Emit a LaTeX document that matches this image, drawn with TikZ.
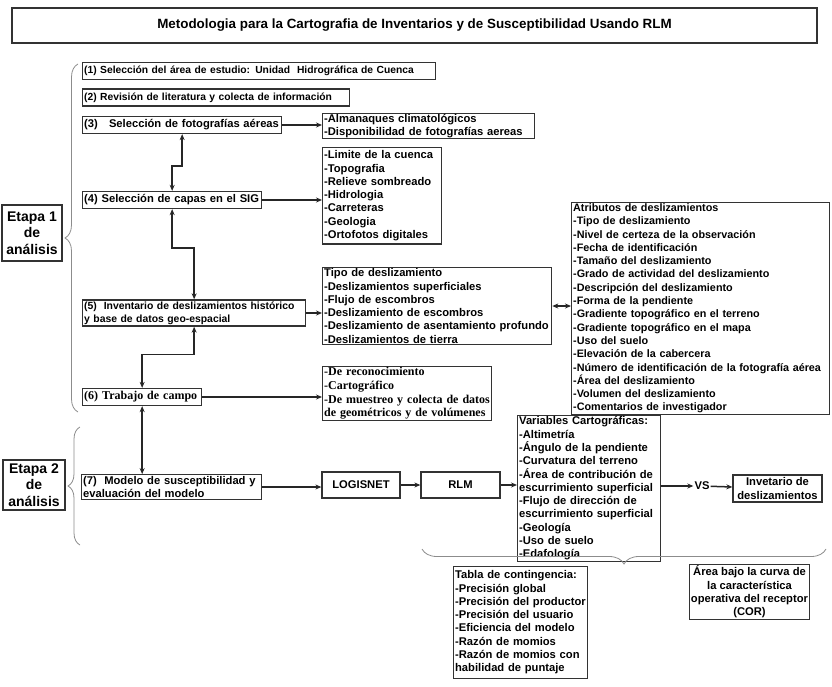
\documentclass[tikz,border=0pt]{standalone}
\usepackage{fontspec}
\setmainfont{Liberation Sans}
\newfontfamily\serifbold{Liberation Serif}
\usetikzlibrary{positioning,calc,arrows.meta,decorations.pathreplacing}
\tikzset{box/.style={draw=black!80, line width=1.3pt, inner sep=1.5pt, execute at begin node={\hyphenpenalty=10000}, font=\bfseries\fontsize{11.2}{13.3}\selectfont}}
\tikzset{stepbox/.style={box, anchor=west, align=left, minimum height=17pt}}
\tikzset{listbox/.style={box, anchor=north west, align=left, inner ysep=1pt}}
\tikzset{smallbox/.style={font=\bfseries\fontsize{10.3}{12.5}\selectfont}}
\tikzset{serifbox/.style={font=\serifbold\bfseries\fontsize{12}{13.6}\selectfont}}
\tikzset{etapa/.style={box, align=center, font=\bfseries\fontsize{14}{16.5}\selectfont}}
\tikzset{arr2/.style={draw=black!85, ->, line width=1.5pt, >={Stealth[length=6pt,width=5pt]}}}
\tikzset{brc/.style={draw=black!45, line width=0.8pt, decorate, decoration={brace, amplitude=#1}}}
\begin{document}
\begin{tikzpicture}[x=1pt,y=-1pt]
	\useasboundingbox (0,0) rectangle (832,687);
	\node[box, minimum width=805pt, minimum height=35pt,
		font=\bfseries\fontsize{13.4}{16}\selectfont] (title) at (414.5,25.5)
		{Metodologia para la Cartografia de Inventarios y de Susceptibilidad Usando RLM};
	% etapa 1
	\node[stepbox, smallbox, text width=350pt] (s1) at (82,71)
		{(1) Selección del área de estudio: Unidad\ \ Hidrográfica de Cuenca};
	\node[stepbox, smallbox, text width=264pt] (s2) at (82,97.5)
		{(2) Revisión de literatura y colecta de información};
	\node[stepbox, text width=196pt] (s3) at (82,125)
		{(3)\ \ \ Selección de fotografías aéreas};
	\node[listbox, text width=209pt, font=\bfseries\fontsize{11.2}{12.4}\selectfont] (lA) at (322,113)
		{-Almanaques climatológicos\\-Disponibilidad de fotografías aereas};
	\node[stepbox, text width=176pt] (s4) at (82,200)
		{(4) Selección de capas en el SIG};
	\node[listbox, text width=116pt, inner ysep=3pt] (lB) at (322,147)
		{-Limite de la cuenca\\-Topografia\\-Relieve sombreado\\-Hidrologia\\-Carreteras\\-Geologia\\-Ortofotos digitales};
	\node[stepbox, text width=220pt, font=\bfseries\fontsize{10.4}{13.3}\selectfont] (s5) at (82,313)
		{(5)\ \ Inventario de deslizamientos histórico\\y base de datos geo-espacial};
	\node[listbox, text width=226pt] (lC) at (322,267)
		{Tipo de deslizamiento\\-Deslizamientos superficiales\\-Flujo de escombros\\-Deslizamiento de escombros\\-Deslizamiento de asentamiento profundo\\-Deslizamientos de tierra};
	\node[listbox, text width=255pt, font=\bfseries\fontsize{10.8}{13.3}\selectfont] (lD) at (571,202)
		{Atributos de deslizamientos\\-Tipo de deslizamiento\\-Nivel de certeza de la observación\\-Fecha de identificación\\-Tamaño del deslizamiento\\-Grado de actividad del deslizamiento\\-Descripción del deslizamiento\\-Forma de la pendiente\\-Gradiente topográfico en el terreno\\-Gradiente topográfico en el mapa\\-Uso del suelo\\-Elevación de la cabercera\\-Número de identificación de la fotografía aérea\\-Área del deslizamiento\\-Volumen del deslizamiento\\-Comentarios de investigador};
	\node[stepbox, serifbox, text width=116pt] (s6) at (82,397)
		{(6) Trabajo de campo};
	\node[listbox, serifbox, text width=166pt] (lE) at (322,366)
		{-De reconocimiento\\-Cartográfico\\-De muestreo y colecta de datos\\de geométricos y de volúmenes};
	% etapa 2
	\node[stepbox, text width=177pt] (s7) at (81,487)
		{(7)\ \ Modelo de susceptibilidad y\\evaluación del modelo};
	\node[box, minimum width=78pt, minimum height=26pt] (logis) at (361,485) {LOGISNET};
	\node[box, minimum width=79pt, minimum height=26pt] (rlm) at (460.5,485) {RLM};
	\node[listbox, text width=140pt] (lF) at (517,415)
		{Variables Cartográficas:\\-Altimetría\\-Ángulo de la pendiente\\-Curvatura del terreno\\-Área de contribución de\\escurrimiento superficial\\-Flujo de dirección de\\escurrimiento superficial\\-Geología\\-Uso de suelo\\-Edafología};
	\node[font=\bfseries\fontsize{11.2}{13.3}\selectfont, inner sep=1pt] (vs) at (702,486) {VS};
	\node[box, align=center, minimum width=89pt, minimum height=27pt] (inv) at (777.5,488.5)
		{Invetario de\\deslizamientos};
	\node[listbox, text width=131pt, inner ysep=4pt] (tH) at (453,566)
		{Tabla de contingencia:\\-Precisión global\\-Precisión del productor\\-Precisión del usuario\\-Eficiencia del modelo\\-Razón de momios\\-Razón de momios con\\habilidad de puntaje};
	\node[box, align=center, minimum width=119pt, minimum height=54pt] (aI) at (749.5,592)
		{Área bajo la curva de\\la característica\\operativa del receptor\\(COR)};
	\node[etapa, minimum width=60pt, minimum height=56pt] (e1) at (32,233) {Etapa 1\\de\\análisis};
	\node[etapa, minimum width=62pt, minimum height=50pt] (e2) at (34,485) {Etapa 2\\de\\análisis};
	% connectors
	\draw[arr2, <->] (s3.south) -- ++(0,32) -| (s4.north);
	\draw[arr2, <->] (s4.south) -- ++(0,39) -| (s5.north);
	\draw[arr2, <->] (s5.south) -- ++(0,28) -| (s6.north);
	\draw[arr2, <->] (s6.south) -- (s6.south |- s7.north);
	\draw[arr2] (s3.east) -- (lA.west |- s3.east);
	\draw[arr2] (s4.east) -- (lB.west |- s4.east);
	\draw[arr2] (s5.east) -- (lC.west |- s5.east);
	\draw[arr2, <->] (lC.east) -- (lD.west |- lC.east);
	\draw[arr2] (s6.east) -- (lE.west |- s6.east);
	\draw[arr2] (s7.east) -- (logis.west |- s7.east);
	\draw[arr2] (logis) -- (rlm);
	\draw[arr2] (rlm.east) -- (lF.west |- rlm.east);
	\draw[arr2] (lF.east |- vs) -- (vs.west);
	\draw[arr2] (vs) -- (inv);
	% braces
	\draw[brc=13] (78,412) -- (78,64);
	\draw[brc=12] (80,545) -- (80,427);
	\draw[brc=15] (826,549) -- (422,549);
\end{tikzpicture}
\end{document}
